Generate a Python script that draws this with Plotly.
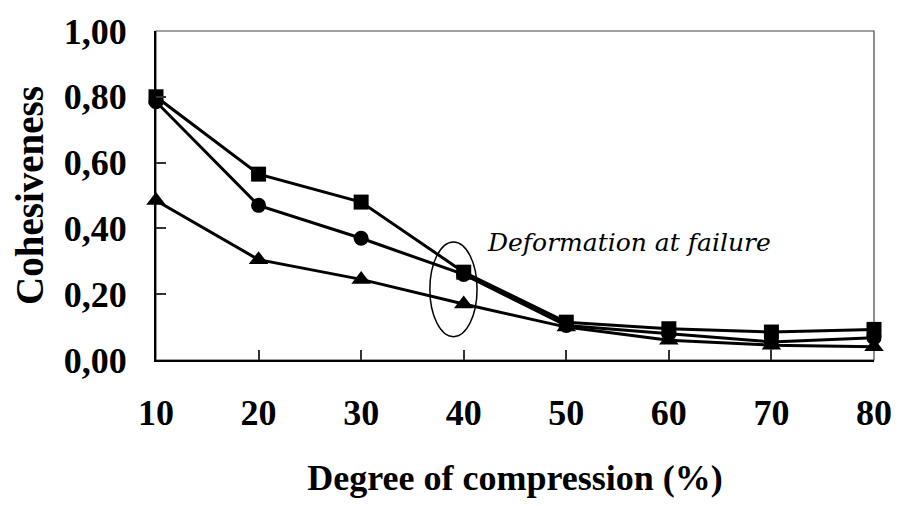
import plotly.graph_objects as go

compression = [10, 20, 30, 40, 50, 60, 70, 80]
series_square = [0.80, 0.565, 0.48, 0.267, 0.115, 0.095, 0.085, 0.093]
series_circle = [0.785, 0.47, 0.37, 0.26, 0.105, 0.08, 0.055, 0.068]
series_triangle = [0.485, 0.305, 0.245, 0.17, 0.10, 0.06, 0.045, 0.04]
y_ticks = [0.0, 0.2, 0.4, 0.6, 0.8, 1.0]
y_tick_labels = ["0,00", "0,20", "0,40", "0,60", "0,80", "1,00"]
x_ticks = compression
x_tick_labels = [str(v) for v in compression]

FONT = "Liberation Serif"

fig = go.Figure()
for ys, sym, size in [(series_square, "square", 15), (series_circle, "circle", 15), (series_triangle, "triangle-up", 17)]:
    fig.add_trace(go.Scatter(
        x=compression, y=ys, mode="lines+markers",
        line=dict(color="black", width=3),
        marker=dict(symbol=sym, size=size, color="black"),
        cliponaxis=False, showlegend=False,
    ))

# thin frame (top/right)
fig.add_shape(type="rect", xref="paper", yref="paper", x0=0, x1=1, y0=0, y1=1,
              line=dict(color="#444", width=1.2), layer="below")
# ellipse around failure point
fig.add_shape(type="circle", xref="x", yref="y", x0=36.7, x1=41.3, y0=0.071, y1=0.359,
              line=dict(color="black", width=1.5))
fig.add_annotation(x=42.1, y=0.358, xref="x", yref="y", text="Deformation at failure",
                   showarrow=False, xanchor="left", yanchor="middle",
                   font=dict(family="DejaVu Serif", size=25, color="black", style="italic"))

fig.update_layout(
    width=904, height=506,
    margin=dict(l=156, r=24, t=25, b=146),
    paper_bgcolor="white", plot_bgcolor="white",
    font=dict(family=FONT, color="black"),
)
fig.update_xaxes(
    range=[10, 80], tickvals=x_ticks, ticktext=x_tick_labels,
    showgrid=False, zeroline=False,
    showline=True, linecolor="black", linewidth=2,
    ticks="inside", ticklen=10, tickwidth=1.5, tickcolor="#333",
    tickfont=dict(family=FONT, size=36, color="black", weight="bold"),
    ticklabelstandoff=20,
    title=dict(text="<b>Degree of compression (%)</b>", font=dict(family=FONT, size=36, color="black"), standoff=33),
)
fig.update_yaxes(
    range=[0, 1], tickvals=y_ticks, ticktext=y_tick_labels,
    showgrid=False, zeroline=False,
    showline=True, linecolor="black", linewidth=2,
    ticks="inside", ticklen=10, tickwidth=1.5, tickcolor="#333",
    tickfont=dict(family=FONT, size=36, color="black", weight="bold"),
    ticklabelstandoff=20,
    title=dict(text="<b>Cohesiveness</b>", font=dict(family=FONT, size=39, color="black"), standoff=8),
)

fig.write_html("out.html")
